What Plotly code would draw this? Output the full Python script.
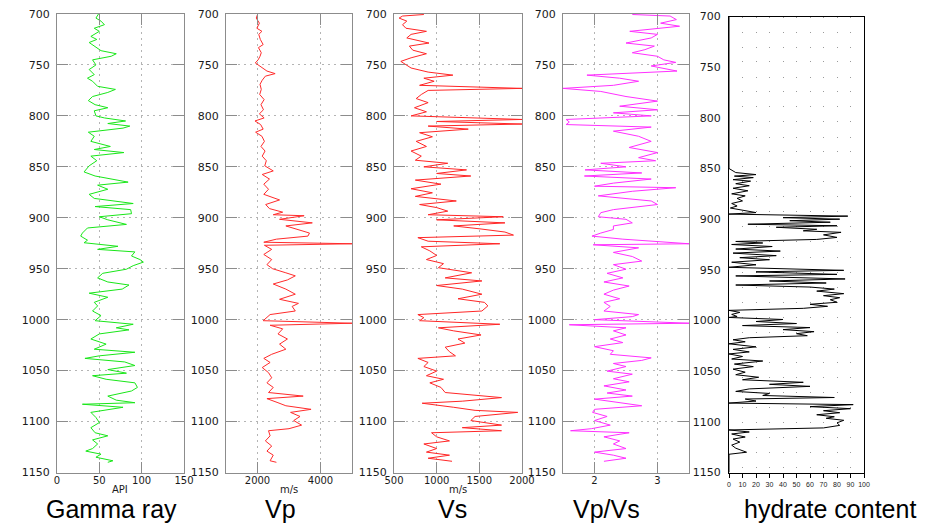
import plotly.graph_objects as go

# ---------------------------------------------------------------- well-log data
gr_depth = [700, 704, 707, 710.5, 714, 717, 722, 725, 728, 732, 736, 739, 741.5, 745, 750,
            754.5, 759.5, 763, 766, 771, 774, 777, 781, 785, 789, 792, 795, 800, 802, 805,
            807.5, 810, 812, 816, 820, 825, 830, 833, 836, 839.5, 844, 849, 855, 859, 865,
            868, 872, 877, 881, 886, 889, 892, 896, 899, 902, 906.5, 910, 915, 918, 922,
            924.5, 928, 931, 933.5, 937.5, 941, 943.5, 947, 950.5, 954.5, 959, 963, 966,
            970, 974, 978, 983, 986.5, 991.5, 996, 1001, 1004.5, 1008, 1010, 1014, 1019,
            1024, 1029, 1032, 1035.5, 1038, 1041.5, 1045, 1049, 1052.5, 1055, 1058.5, 1062,
            1066.5, 1070, 1075, 1079, 1081.5, 1083, 1086, 1091, 1096, 1101, 1106, 1111,
            1114, 1118, 1122, 1126.5, 1129, 1132, 1135, 1138.5, 1140]
gr_api = [49, 46, 52, 56, 44, 50, 40, 47, 38, 45, 52, 70, 64, 42, 46,
          38, 44, 36, 42, 48, 69, 60, 42, 37, 45, 60, 44, 46, 56, 81,
          60, 86, 78, 37, 44, 40, 63, 44, 79, 40, 47, 38, 32, 45, 84,
          48, 60, 38, 44, 90, 45, 87, 88, 50, 60, 82, 36, 30, 28, 36,
          32, 72, 48, 92, 88, 98, 102, 90, 82, 54, 48, 60, 85,
          77, 38, 60, 44, 48, 42, 52, 45, 90, 70, 85, 50, 40,
          58, 44, 92, 50, 33, 80, 92, 60, 82, 42, 58, 92,
          95, 88, 60, 70, 92, 30, 78, 40, 46, 50, 40, 45,
          60, 42, 48, 42, 34, 52, 46, 66, 60]

vp_depth = [700.5, 704, 709, 714, 717, 720, 725, 730, 733, 738, 741.5, 745, 748, 752, 756,
            758.5, 761, 765, 769, 774, 779, 784, 789, 794, 798, 802, 805, 808.5, 813, 816,
            820, 825, 830, 834.5, 839.5, 844, 849, 854, 857.5, 862, 867, 872, 877, 882.5,
            887, 891, 894.5, 897, 898, 901.5, 905, 908, 911.5, 915, 918, 921, 924, 925.5,
            927, 931, 936, 941, 946, 950, 954, 957, 961, 965, 970, 975, 980, 984, 987,
            991.5, 995, 998, 1001, 1003.5, 1005.5, 1009, 1014, 1019, 1024, 1029, 1034,
            1038, 1042, 1047, 1052, 1057, 1062, 1066.5, 1071.5, 1075, 1077.5, 1081.5,
            1084.5, 1088, 1091, 1095, 1099, 1103.5, 1107, 1109, 1114, 1119, 1124, 1129,
            1133, 1138.5, 1140]
vp_ms = [2000, 1960, 2060, 1980, 2140, 2040, 2090, 2180, 2030, 2120, 2080, 2020, 1930, 2100, 2300,
         2560, 2250, 2150, 2080, 2120, 2070, 2210, 2110, 2190, 2060, 2210, 1920, 2100, 2180, 1940,
         2140, 2220, 2110, 2240, 2150, 2280, 2230, 2500, 2150, 2380, 2200, 2350, 2200, 2700,
         2260, 2380, 2800, 2500, 3480, 2700, 3740, 2900, 3300, 3650, 3600, 2600, 2200, 5000,
         2220, 2450, 2200, 2450, 2300, 2480, 2900, 3200, 2950, 2500, 2900, 3200, 2700, 3300, 3100,
         3200, 2400, 2280, 2180, 5000, 2400, 2800, 2650, 2950, 2700, 2900, 2450,
         2200, 2400, 2150, 2350, 2450, 2300, 2500, 2350, 3450, 2300, 2650,
         2900, 3700, 3050, 3350, 3150, 3400, 3000, 2350, 2400, 2250, 2450, 2300,
         2500, 2400, 2600]

vs_depth = [700.5, 702, 704, 707, 710.5, 714, 717, 720, 723.5, 728.5, 731.5, 735.5, 739, 743,
            746.5, 750, 753, 757, 760, 763, 766, 770, 773, 775, 779, 783, 787, 792, 796, 800,
            801, 803.5, 805.5, 808, 810, 813, 816.5, 820.5, 825, 830, 834.5, 839.5, 843.5,
            846.5, 850, 853, 856.5, 859, 863, 867, 871.5, 875.5, 879, 883.5, 887, 890, 893.5,
            897, 899, 902, 905, 908, 911, 914, 917, 919.5, 923, 925.5, 928.5, 932.5, 937, 941,
            945, 949, 954, 959, 962, 966.5, 970, 975, 979.5, 983, 986.5, 991.5, 995, 998,
            1001, 1004.5, 1008, 1011, 1015, 1019, 1023, 1027, 1031.5, 1035.5, 1038, 1042,
            1046, 1050.5, 1055, 1058.5, 1062, 1066.5, 1071.5, 1076.5, 1080, 1082, 1086, 1089,
            1091, 1095, 1099, 1103.5, 1106, 1109, 1111, 1115, 1119, 1122, 1126.5, 1130, 1133,
            1136, 1139]
vs_ms = [850, 600, 560, 650, 600, 640, 880, 700, 650, 910, 680, 720, 880, 700,
         580, 640, 700, 900, 1190, 850, 970, 800, 2000, 900, 820, 760, 900, 740, 880, 700,
         1110, 2000, 1000, 2000, 900, 1370, 800, 950, 760, 880, 700, 820, 750,
         1130, 850, 1350, 1000, 1400, 750, 1050, 700, 950, 750, 1230, 800, 1000, 1130,
         900, 1780, 1000, 1800, 1200, 1520, 1800, 1900, 780, 900, 1740, 820, 920, 1000, 880,
         1080, 1020, 1410, 1100, 1530, 1000, 1300, 1530, 1250, 1560, 1600, 1530, 780, 850,
         800, 1740, 1020, 1200, 1520, 1250, 1330, 1100, 1150, 1220, 780, 900,
         850, 1000, 880, 1080, 920, 1050, 1100, 1760, 1300, 830, 1200, 1450,
         1950, 1450, 1400, 1760, 1300, 1760, 940, 1000, 1150, 850, 1000, 880, 1150,
         900, 1180]

vpvs_depth = [700.5, 702, 705.5, 709, 712, 717, 720, 723.5, 728.5, 731.5, 735, 738, 741.5,
              745, 747.5, 751, 756, 760, 763, 766, 770, 773, 776, 781, 785.5, 790.5, 794,
              797, 800, 803.5, 806, 808.5, 811, 815, 820, 825, 831, 836, 841, 844, 846.5,
              850, 853, 856, 859, 862, 866, 869, 870.5, 874, 878.5, 883.5, 887, 892, 895,
              899, 901.5, 905, 908, 911.5, 915, 918, 921, 925.5, 926.5, 929.5, 934, 938,
              942.5, 946, 950.5, 954.5, 959, 963, 967, 971, 975, 979.5, 983, 987, 991.5,
              995, 997, 1000, 1003.5, 1005, 1008, 1011, 1015, 1019, 1022.5, 1026.5, 1030.5,
              1034, 1037.5, 1040, 1043, 1046, 1050.5, 1053.5, 1058, 1061, 1065, 1069, 1072,
              1075, 1078, 1081.5, 1084.5, 1088, 1091, 1095, 1099, 1103.5, 1107, 1109, 1111,
              1115, 1119, 1122, 1126.5, 1130, 1133, 1136, 1139]
vpvs_ratio = [2.6, 3.2, 3.3, 3.05, 3.35, 2.56, 3.0, 2.9, 2.5, 2.95, 2.8, 2.6, 3.0,
              3.1, 3.29, 2.9, 3.31, 1.88, 2.4, 2.7, 2.3, 1.5, 2.1, 2.5, 3.0, 2.4, 3.0,
              2.3, 2.9, 1.55, 1.6, 1.55, 2.9, 2.3, 2.7, 2.9, 2.55, 3.0, 2.7, 2.97, 2.1,
              2.5, 1.85, 2.75, 1.84, 2.9, 2.3, 2.0, 3.29, 2.6, 2.06, 2.9, 3.0, 2.3, 2.1,
              2.06, 2.5, 2.6, 2.3, 2.3, 2.1, 1.96, 2.45, 3.5, 1.98, 2.7, 2.3, 2.6,
              2.75, 2.3, 2.5, 2.2, 2.45, 2.15, 2.55, 2.3, 2.15, 2.4, 2.15, 2.25, 2.15,
              2.7, 2.6, 2.0, 3.5, 1.6, 2.5, 2.3, 2.5, 2.25, 2.45, 2.0, 2.3,
              2.25, 2.9, 2.75, 2.3, 2.5, 2.2, 2.6, 2.3, 2.55, 2.15, 2.5, 2.2,
              2.6, 2.0, 2.4, 2.75, 2.0, 1.97, 2.2, 2.0, 2.25, 1.95, 1.62, 2.55,
              2.15, 2.4, 2.3, 2.5, 2.0, 2.3, 2.5, 2.15]

hyd_depth = [700, 850, 854, 856, 857.5, 859, 861, 862.5, 865, 867, 869.5, 872, 875, 877,
             879.5, 882, 884.5, 887, 889, 892, 893.5, 895, 897, 898.5, 900, 901.5, 903, 905,
             906.5, 908, 910, 911.5, 913, 915.5, 918, 920, 922, 923.5, 925, 927, 929.5,
             931.5, 933.5, 936, 938, 940, 942.5, 945, 947.5, 950.5, 952, 954.5, 956, 959,
             961, 963, 965, 967, 969, 971, 973.5, 975.5, 977.5, 979.5, 982, 984, 986, 988,
             990, 992, 994, 996, 997, 999, 1001, 1003, 1005, 1007, 1009, 1011, 1013, 1015,
             1017, 1019, 1021, 1023, 1026, 1028.5, 1031, 1033, 1035.5, 1038, 1040, 1043,
             1045.5, 1048, 1051, 1053.5, 1056, 1058.5, 1061, 1063, 1065, 1067.5, 1070, 1072,
             1074, 1076, 1077.5, 1079.5, 1081.5, 1083, 1085, 1087, 1089, 1091, 1093, 1095,
             1096.5, 1098.5, 1101, 1103.5, 1106, 1108, 1110, 1112, 1115, 1117, 1120, 1123,
             1126, 1130, 1132, 1150]
hyd_pct = [0, 0, 5, 20, 4, 18, 3, 16, 5, 15, 3, 14, 2, 12,
           6, 10, 2, 6, 1, 12, 20, 0, 88, 40, 82, 45, 75, 14,
           80, 35, 65, 55, 83, 70, 80, 65, 5, 25, 2, 32, 5,
           38, 3, 35, 8, 30, 2, 20, 0, 85, 20, 80, 5, 86,
           30, 72, 5, 60, 78, 65, 85, 70, 82, 75, 80, 60, 73, 55,
           0, 8, 2, 6, 0, 40, 20, 50, 10, 60, 40, 63, 50, 58,
           15, 3, 12, 0, 20, 3, 15, 0, 10, 2, 25, 4,
           18, 3, 12, 5, 22, 10, 55, 30, 60, 15, 5, 30,
           25, 78, 12, 20, 0, 92, 60, 90, 70, 82, 65, 78,
           72, 85, 80, 82, 70, 0, 15, 2, 12, 3, 8, 2,
           5, 13, 0, 0]

depth_ticks = [700, 750, 800, 850, 900, 950, 1000, 1050, 1100, 1150]

# ---------------------------------------------------------------- page geometry
W, H = 936, 527


def fx(px):
    return px / W


def fy(py):
    return 1 - py / H


GRID = "#b4b4b4"
FRAME = "#8c8c8c"
INK = "#1a1a1a"
YTICKFONT = dict(family="DejaVu Sans", size=11, color=INK)
XTICKFONT = dict(family="DejaVu Sans", size=10, color=INK)

tracks = [
    dict(px=(57, 184), rng=[0, 150], ticks=[0, 50, 100, 150], unit="API",
         x=gr_api, y=gr_depth, color="#19e619"),
    dict(px=(226, 352), rng=[1000, 5000], ticks=[2000, 4000], unit="m/s",
         x=vp_ms, y=vp_depth, color="#ff2b2b"),
    dict(px=(394, 522), rng=[500, 2000], ticks=[500, 1000, 1500, 2000], unit="m/s",
         x=vs_ms, y=vs_depth, color="#ff2626"),
    dict(px=(563, 689), rng=[1.5, 3.5], ticks=[2, 3], unit="",
         x=vpvs_ratio, y=vpvs_depth, color="#ff30ff"),
]

fig = go.Figure()
layout = dict(
    template="none",
    width=W, height=H,
    margin=dict(l=0, r=0, t=0, b=0, autoexpand=False),
    paper_bgcolor="white", plot_bgcolor="white",
    showlegend=False,
)
annotations = []

for i, t in enumerate(tracks, start=1):
    xa = "x" if i == 1 else f"x{i}"
    ya = "y" if i == 1 else f"y{i}"
    fig.add_trace(go.Scatter(x=t["x"], y=t["y"], mode="lines",
                             line=dict(color=t["color"], width=1),
                             xaxis=xa, yaxis=ya, hoverinfo="skip"))
    xkey = "xaxis" if i == 1 else f"xaxis{i}"
    ykey = "yaxis" if i == 1 else f"yaxis{i}"
    layout[xkey] = dict(
        domain=[fx(t["px"][0]), fx(t["px"][1])], anchor=ya, automargin=False,
        range=t["rng"], tickvals=t["ticks"],
        ticks="inside", ticklen=11, tickcolor=FRAME,
        showline=True, linecolor=FRAME, linewidth=1, mirror="ticks",
        showgrid=True, gridcolor=GRID, griddash="2px,4px", gridwidth=1,
        zeroline=False, tickfont=XTICKFONT, ticklabelstandoff=-2,
    )
    layout[ykey] = dict(
        domain=[fy(472.5), fy(14)], anchor=xa, automargin=False,
        range=[1150, 700], tickvals=depth_ticks,
        ticks="inside", ticklen=11, tickcolor=FRAME,
        showline=True, linecolor=FRAME, linewidth=1, mirror="ticks",
        showgrid=True, gridcolor=GRID, griddash="2px,4px", gridwidth=1,
        zeroline=False, tickfont=YTICKFONT, ticklabelstandoff=4,
    )
    # unit label below the tick labels
    if t["unit"]:
        annotations.append(dict(text=t["unit"], x=fx((t["px"][0] + t["px"][1]) / 2),
                                y=fy(489), xref="paper", yref="paper",
                                xanchor="center", yanchor="middle", showarrow=False,
                                font=dict(family="DejaVu Sans", size=10, color=INK)))

# hydrate content track
fig.add_trace(go.Scatter(x=hyd_pct, y=hyd_depth, mode="lines",
                         line=dict(color="black", width=1),
                         xaxis="x5", yaxis="y5", hoverinfo="skip"))
layout["xaxis5"] = dict(
    domain=[fx(729), fx(864)], anchor="y5", automargin=False, range=[0, 100],
    tickvals=list(range(0, 101, 10)), tickangle=0,
    ticks="outside", ticklen=4, tickcolor="black",
    showline=True, linecolor="black", linewidth=1, mirror=True,
    showgrid=True, gridcolor="#9a9a9a", griddash="1px,14px", gridwidth=1,
    zeroline=False, tickfont=dict(family="Liberation Sans", size=7, color=INK),
    ticklabelstandoff=1,
)
layout["yaxis5"] = dict(
    domain=[fy(472.5), fy(16.5)], anchor="x5", automargin=False, range=[1150, 700],
    tickvals=depth_ticks, ticks="",
    showline=True, linecolor="black", linewidth=1, mirror=True,
    showgrid=False, zeroline=False, tickfont=YTICKFONT, ticklabelstandoff=5,
)

# track names under the panels
names = [("Gamma ray", 111), ("Vp", 280), ("Vs", 452), ("Vp/Vs", 606), ("hydrate content", 830)]
for text, cx in names:
    annotations.append(dict(text=text, x=fx(cx), y=fy(525), xref="paper", yref="paper",
                            xanchor="center", yanchor="bottom", showarrow=False,
                            font=dict(family="Liberation Sans", size=25, color="black")))
layout["annotations"] = annotations

fig.update_layout(**layout)
fig.write_html("out.html")
